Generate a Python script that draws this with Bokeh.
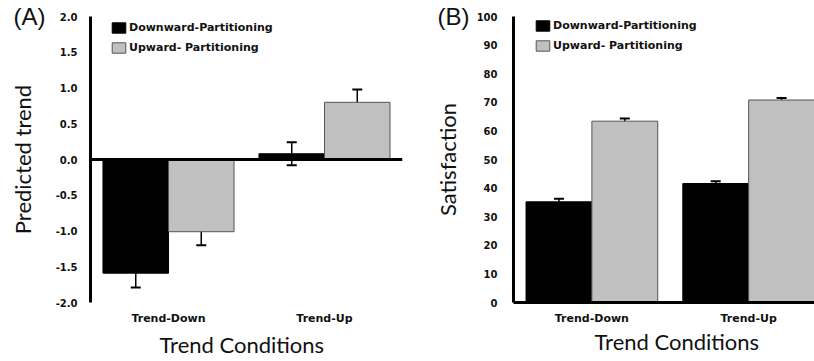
from bokeh.plotting import figure
from bokeh.models import (Range1d, FixedTicker, PrintfTickFormatter, Whisker, TeeHead,
                          Span, ColumnDataSource, Title)
from bokeh.layouts import row
from bokeh.embed import file_html
from bokeh.resources import INLINE

# ---------------- data ----------------
categories = ["Trend-Down", "Trend-Up"]
series = ["Downward-Partitioning", "Upward- Partitioning"]

a_down = [-1.59, 0.08]
a_down_err = [0.20, 0.16]
a_up = [-1.01, 0.80]
a_up_err = [0.19, 0.18]

b_down = [35.2, 41.6]
b_down_err = [1.1, 0.8]
b_up = [63.4, 70.8]
b_up_err = [0.9, 0.7]

a_yticks = [-2.0, -1.5, -1.0, -0.5, 0.0, 0.5, 1.0, 1.5, 2.0]
b_yticks = [0, 10, 20, 30, 40, 50, 60, 70, 80, 90, 100]

x_title = "Trend Conditions"

TICK_FONT = "DejaVu Sans"
TITLE_FONT = "Lato"
GRAY = "#c0c0c0"
BW = 0.42


def make_panel(tag, ylabel, down, down_err, up, up_err, y_range, yticks, fmt,
               x_end, width, bl, br, bt, bb, zero_line, xaxis_line, legend_loc,
               tag_offset, xtitle_offset, ytick_standoff, ylabel_standoff, xtitle_standoff):
    p = figure(width=width, height=361, x_range=Range1d(0, x_end), y_range=Range1d(*y_range),
               output_backend="svg", toolbar_location=None,
               min_border_left=bl, min_border_right=br, min_border_top=bt, min_border_bottom=bb)
    p.xgrid.visible = False
    p.ygrid.visible = False
    p.outline_line_color = None

    # panel tag "(A)" / "(B)"
    p.title.text = tag
    p.title.align = "left"
    p.title.vertical_align = "bottom"
    p.title.offset = tag_offset
    p.title.standoff = -26
    p.title.text_font = "Liberation Sans"
    p.title.text_font_style = "normal"
    p.title.text_font_size = "24px"
    p.title.text_color = "#111111"

    centers = [i + 0.5 for i in range(len(categories))]
    for vals, errs, off, fill, lc, name in [
        (down, down_err, -BW / 2, "black", "black", series[0]),
        (up, up_err, BW / 2, GRAY, "#555555", series[1]),
    ]:
        src = ColumnDataSource(dict(
            x=[c + off for c in centers], top=vals,
            lower=[v - e for v, e in zip(vals, errs)],
            upper=[v + e for v, e in zip(vals, errs)]))
        p.vbar(x="x", top="top", bottom=0, width=BW, source=src,
               fill_color=fill, line_color=lc, line_width=1, legend_label=name)
        p.add_layout(Whisker(source=src, base="x", upper="upper", lower="lower",
                             line_color="black", line_width=1.5,
                             upper_head=TeeHead(size=10, line_width=2, line_color="black"),
                             lower_head=TeeHead(size=10, line_width=2, line_color="black")))

    if zero_line:
        p.add_layout(Span(location=0, dimension="width", line_color="black", line_width=3))

    # y axis
    yax = p.yaxis[0]
    yax.ticker = FixedTicker(ticks=yticks)
    yax.formatter = PrintfTickFormatter(format=fmt)
    yax.axis_line_width = 3
    yax.axis_line_color = "black"
    yax.major_tick_line_color = None
    yax.minor_tick_line_color = None
    yax.major_tick_out = 0
    yax.minor_tick_out = 0
    yax.major_label_standoff = ytick_standoff
    yax.major_label_text_font = TICK_FONT
    yax.major_label_text_font_style = "bold"
    yax.major_label_text_font_size = "10px"
    yax.major_label_text_color = "#111111"
    yax.axis_label = ylabel
    yax.axis_label_text_font = TITLE_FONT
    yax.axis_label_text_font_style = "normal"
    yax.axis_label_text_font_size = "22px"
    yax.axis_label_standoff = ylabel_standoff
    yax.axis_label_text_color = "#111111"

    # x axis
    xax = p.xaxis[0]
    xax.ticker = FixedTicker(ticks=centers)
    xax.major_label_overrides = {c: cat for c, cat in zip(centers, categories)}
    if xaxis_line:
        xax.axis_line_width = 3
        xax.axis_line_color = "black"
    else:
        xax.axis_line_color = None
    xax.major_tick_line_color = None
    xax.minor_tick_line_color = None
    xax.major_tick_out = 0
    xax.minor_tick_out = 0
    xax.major_label_standoff = 9
    xax.major_label_text_font = TICK_FONT
    xax.major_label_text_font_style = "bold"
    xax.major_label_text_font_size = "11px"
    xax.major_label_text_color = "#111111"

    # x axis title (bottom title so it can sit off-centre as in the original)
    p.add_layout(Title(text=x_title, align="left", vertical_align="bottom",
                       offset=xtitle_offset, standoff=xtitle_standoff, text_font=TITLE_FONT,
                       text_font_style="normal", text_font_size="22px",
                       text_color="#111111"), "below")

    # legend
    lg = p.legend[0]
    lg.location = legend_loc
    lg.margin = 0
    lg.padding = 0
    lg.spacing = 7
    lg.border_line_color = None
    lg.background_fill_alpha = 0
    lg.glyph_width = 17
    lg.glyph_height = 13
    lg.label_height = 13
    lg.label_standoff = 2
    lg.label_text_font = TICK_FONT
    lg.label_text_font_style = "bold"
    lg.label_text_font_size = "11px"
    lg.label_text_color = "#111111"
    return p


pa = make_panel("(A)", "Predicted trend", a_down, a_down_err, a_up, a_up_err,
                (-2.0, 2.0), a_yticks, "%.1f", 2.0, 410, 90, 8, 15, 59,
                True, False, (20, 248), -77, 69, 13, 17, 3)
pb = make_panel("(B)", "Satisfaction", b_down, b_down_err, b_up, b_up_err,
                (0, 100), b_yticks, "%d", 1.92, 404, 103, 0, 16, 57,
                False, True, (21, 250), -76, 81, 16, 13, -3)

layout = row(pa, pb)
open("out.html", "w").write(file_html(layout, INLINE))
